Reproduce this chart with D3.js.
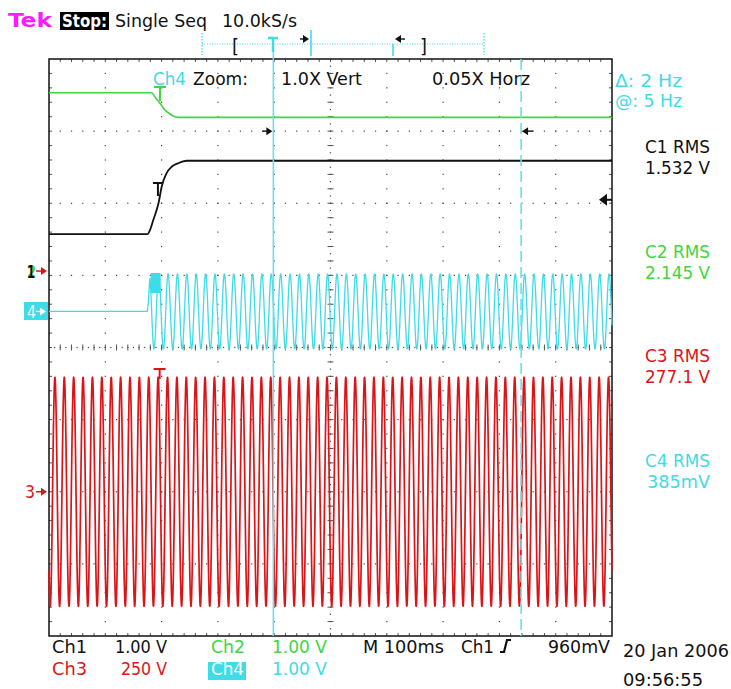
<!DOCTYPE html>
<html>
<head>
<meta charset="utf-8">
<script src="https://cdn.jsdelivr.net/npm/d3@7"></script>
<style>
html, body { margin: 0; padding: 0; background: #fff; }
svg { display: block; }
text { font-family: "DejaVu Sans Condensed", "Liberation Sans Narrow", "DejaVu Sans", sans-serif; }
</style>
</head>
<body>
<svg id="scope" width="731" height="689"></svg>
<script>
// ---- data (time in ms, trigger at 0) ----
const timeDomainMs = [-193.5, 806.5];
const channelNames = ["Ch1", "Ch2", "Ch3", "Ch4"];
const voltsPerDiv = [1.00, 1.00, 250, 1.00];
const voltsLabels = ["1.00 V", "1.00 V", "250 V", "1.00 V"];
const groundDiv = [1.06, 1.06, -2.0, 0.5];
const rmsValues = ["1.532 V", "2.145 V", "277.1 V", "385mV"];

// Ch1 (black) step
const ch1Times = [-193.5, -18.3, -14.2, -8.3, 1.2, 6.6, 15.5, 24.3, 35.5, 51, 806.5];
const ch1Volts = [0.513, 0.513, 0.568, 0.707, 0.947, 1.169, 1.359, 1.446, 1.493, 1.529, 1.529];
// Ch2 (green) drop
const ch2Times = [-193.5, -11.2, -5.3, 3.6, 12.4, 21.3, 35.5, 806.5];
const ch2Volts = [2.472, 2.472, 2.412, 2.325, 2.232, 2.177, 2.131, 2.131];
// Ch3 / Ch4 are 60 Hz mains
const lineFreqHz = 60;
const ch3PeakV = 397;
const ch3PeakAtMs = -183;
const ch4EnvTimes = [-193.5, -19.5, -17, -14, 806.5];
const ch4EnvPeakV = [0, 0, 0.16, 0.52, 0.52];

const cursorMs = [205, 645];
const cursorReadout = ["Δ: 2 Hz", "@: 5 Hz"];
const timePerDiv = "100ms";
const triggerLevelV = 0.96;
const triggerLabel = "960mV";

// ---- geometry ----
const svg = d3.select("#scope");
const L = 49, R = 612, T = 59, B = 636;
const divX = (R - L) / 10, divY = (B - T) / 8;
const cx = (L + R) / 2, cy = (T + B) / 2;

const x = d3.scaleLinear().domain(timeDomainMs).range([L, R]);
const yDiv = d3.scaleLinear().domain([-4, 4]).range([B, T]);
const yCh = (i, v) => yDiv(groundDiv[i] + v / voltsPerDiv[i]);

const CYAN = "#3fdbe6", GREEN = "#3fd63f", RED = "#dc1418", MAG = "#ff1aff";

// ---- graticule ----
const grid = svg.append("g");
const dots = [];
for (let i = 1; i < 10; i++) {
  if (i === 5) continue;
  for (let k = 1; k < 40; k++) dots.push([L + i * divX, T + k * divY / 5]);
}
for (let j = 1; j < 8; j++) {
  if (j === 4) continue;
  for (let k = 1; k < 50; k++) dots.push([L + k * divX / 5, T + j * divY]);
}
for (let k = 1; k < 80; k++) dots.push([cx, T + k * divY / 10]);
for (let k = 1; k < 100; k++) dots.push([L + k * divX / 10, cy]);
grid.selectAll("rect.dot").data(dots).join("rect")
  .attr("class", "dot")
  .attr("x", d => d[0] - 0.6).attr("y", d => d[1] - 0.6)
  .attr("width", 1.2).attr("height", 1.2).attr("fill", "#444");

const ticks = [];
for (let k = 1; k < 50; k++) {
  const xx = L + k * divX / 5;
  ticks.push([xx, T, xx, T + 3], [xx, B - 3, xx, B], [xx, cy - 3, xx, cy + 3]);
}
for (let k = 1; k < 40; k++) {
  const yy = T + k * divY / 5;
  ticks.push([L, yy, L + 3, yy], [R - 3, yy, R, yy], [cx - 3, yy, cx + 3, yy]);
}
grid.selectAll("line.tick").data(ticks).join("line")
  .attr("class", "tick")
  .attr("x1", d => d[0]).attr("y1", d => d[1]).attr("x2", d => d[2]).attr("y2", d => d[3])
  .attr("stroke", "#555").attr("stroke-width", 1);

grid.append("rect").attr("x", L).attr("y", T).attr("width", R - L).attr("height", B - T)
  .attr("fill", "none").attr("stroke", "#111").attr("stroke-width", 1.5);

// ---- traces ----
const step = 0.2;
const tSamples = d3.range(timeDomainMs[0], timeDomainMs[1] + step, step);
const ch4Env = d3.scaleLinear().domain(ch4EnvTimes).range(ch4EnvPeakV).clamp(true);

const ch3Data = tSamples.map(t => [t, ch3PeakV * Math.cos(2 * Math.PI * lineFreqHz * (t - ch3PeakAtMs) / 1000)]);
const ch4Data = tSamples.map(t => [t, t < ch4EnvTimes[1] ? 0 :
  ch4Env(t) * Math.sin(2 * Math.PI * lineFreqHz * (t - ch4EnvTimes[1]) / 1000)]);
const ch1Data = ch1Times.map((t, i) => [t, ch1Volts[i]]);
const ch2Data = ch2Times.map((t, i) => [t, ch2Volts[i]]);

const traces = svg.append("g");
function drawTrace(idx, data, color, width, curve) {
  const line = d3.line().x(d => x(d[0])).y(d => yCh(idx, d[1])).curve(curve || d3.curveLinear);
  traces.append("path").datum(data).attr("d", line)
    .attr("fill", "none").attr("stroke", color).attr("stroke-width", width)
    .attr("stroke-linejoin", "round");
}
drawTrace(2, ch3Data, RED, 1.7);
drawTrace(3, ch4Data, CYAN, 1.3);
drawTrace(1, ch2Data, GREEN, 1.6, d3.curveMonotoneX);
drawTrace(0, ch1Data, "#111", 1.8, d3.curveMonotoneX);

// ---- trigger "T" marks on traces ----
function tMark(xx, yTop, yBot, color, halfW) {
  traces.append("line").attr("x1", xx - halfW).attr("x2", xx + halfW).attr("y1", yTop).attr("y2", yTop)
    .attr("stroke", color).attr("stroke-width", 2);
  traces.append("line").attr("x1", xx).attr("x2", xx).attr("y1", yTop).attr("y2", yBot)
    .attr("stroke", color).attr("stroke-width", 2);
}
tMark(x(3.6), 87, 101, GREEN, 6);
tMark(x(0), 183, 196, "#111", 5);
tMark(x(3), 369, 379, RED, 6);
traces.append("rect").attr("x", x(-13)).attr("y", 273).attr("width", 10).attr("height", 20).attr("fill", CYAN);

// ---- arrows ----
function arrow(x1, x2, y, color, w) {
  const dir = Math.sign(x2 - x1);
  const g = svg.append("g");
  g.append("line").attr("x1", x1).attr("x2", x2 - dir * 3).attr("y1", y).attr("y2", y)
    .attr("stroke", color).attr("stroke-width", w || 1.5);
  g.append("path").attr("d", `M${x2},${y} L${x2 - dir * 6},${y - 4} L${x2 - dir * 6},${y + 4} Z`).attr("fill", color);
}

// cursors
const cur = svg.append("g");
cur.append("line").attr("x1", x(cursorMs[0])).attr("x2", x(cursorMs[0])).attr("y1", 50).attr("y2", B)
  .attr("stroke", "#70dde6").attr("stroke-width", 1.6);
cur.append("line").attr("x1", x(cursorMs[1])).attr("x2", x(cursorMs[1])).attr("y1", T).attr("y2", B)
  .attr("stroke", "#70dde6").attr("stroke-width", 1.6).attr("stroke-dasharray", "11,5");
arrow(x(cursorMs[0]) - 11, x(cursorMs[0]) - 1, T + divY, "#111", 1.4);
arrow(x(cursorMs[1]) + 12, x(cursorMs[1]) + 1, T + divY, "#111", 1.4);

// trigger level marker on right edge
const trigY = yCh(0, triggerLevelV) - 2;
svg.append("path").attr("d", `M${R - 13},${trigY} L${R - 5},${trigY - 6} L${R - 5},${trigY + 6} Z`).attr("fill", "#111");
svg.append("line").attr("x1", R - 6).attr("x2", R).attr("y1", trigY).attr("y2", trigY).attr("stroke", "#111").attr("stroke-width", 2);

// ---- text helper ----
function label(xx, yy, str, color, len, size, weight) {
  const t = svg.append("text").attr("x", xx).attr("y", yy).attr("fill", color)
    .attr("font-size", size || 18).text(str);
  if (weight) t.attr("font-weight", weight);
  if (len) t.attr("textLength", len).attr("lengthAdjust", "spacingAndGlyphs");
  return t;
}

// ground markers
label(27, 278, "2", GREEN, 9, 17, "bold");
label(27, 278, "1", "#111", 8, 17, "bold");
arrow(36, 47, yCh(0, 0), RED, 1.5);
svg.append("rect").attr("x", 24).attr("y", 302).attr("width", 24).attr("height", 18).attr("fill", CYAN);
label(27, 317.5, "4", "#fff", 9, 17);
arrow(36, 46, yCh(3, 0), "#fff", 1.3);
label(25, 498, "3", RED, 10, 17);
arrow(36, 47, yCh(2, 0), RED, 1.5);

// ---- header ----
label(8, 27, "Tek", MAG, 44, 19, "bold");
svg.append("rect").attr("x", 60).attr("y", 12).attr("width", 49).attr("height", 18).attr("fill", "#000");
label(62, 27, "Stop:", "#fff", 45, 18, "bold");
label(115, 27, "Single Seq", "#111", 92, 18);
label(222, 27, "10.0kS/s", "#111", 75, 18);

// record bar
const rb = svg.append("g");
rb.append("line").attr("x1", 202).attr("x2", 484).attr("y1", 44).attr("y2", 44)
  .attr("stroke", CYAN).attr("stroke-width", 1.2).attr("stroke-dasharray", "1,1.5");
[202, 484].forEach(xx => rb.append("line").attr("x1", xx).attr("x2", xx).attr("y1", 33).attr("y2", 55)
  .attr("stroke", CYAN).attr("stroke-width", 1.2).attr("stroke-dasharray", "1.5,1.5"));
label(232, 53, "[", "#111", 7, 19);
label(420, 53, "]", "#111", 7, 19);
rb.append("line").attr("x1", 268).attr("x2", 278).attr("y1", 38).attr("y2", 38).attr("stroke", CYAN).attr("stroke-width", 2.5);
rb.append("line").attr("x1", 273).attr("x2", 273).attr("y1", 38).attr("y2", 52).attr("stroke", CYAN).attr("stroke-width", 2.5);
rb.append("line").attr("x1", 311).attr("x2", 311).attr("y1", 30).attr("y2", 56).attr("stroke", CYAN).attr("stroke-width", 1.6);
rb.append("line").attr("x1", 393).attr("x2", 393).attr("y1", 44).attr("y2", 56).attr("stroke", CYAN).attr("stroke-width", 1.6);
arrow(300, 309, 39, "#111", 1.4);
arrow(405, 395, 39, "#111", 1.4);

// zoom line
label(153, 85, "Ch4", CYAN, 33, 18);
label(193, 85, "Zoom:", "#111", 55, 18);
label(281, 85, "1.0X Vert", "#111", 81, 18);
label(432, 85, "0.05X Horz", "#111", 98, 18);

// right-hand readouts
label(615, 87, cursorReadout[0], CYAN, 67, 18);
label(615, 107, cursorReadout[1], CYAN, 67, 18);
const readColors = ["#111", GREEN, RED, CYAN];
const readBase = [153, 258, 362, 467];
channelNames.forEach((n, i) => {
  label(645, readBase[i], "C" + (i + 1) + " RMS", readColors[i], 65, 18);
  label(i === 3 ? 647 : 645, readBase[i] + 21, rmsValues[i], readColors[i], i === 3 ? 63 : 65, 18);
});

// ---- footer ----
label(52, 653, channelNames[0], "#111", 35, 17);
label(115, 653, voltsLabels[0], "#111", 52, 17);
label(211, 653, channelNames[1], GREEN, 34, 17);
label(272, 653, voltsLabels[1], GREEN, 55, 17);
label(363, 653, "M " + timePerDiv, "#111", 81, 17);
label(461, 653, "Ch1", "#111", 33, 17);
svg.append("path").attr("d", "M500,652 L504,652 L507,640 L511,640").attr("fill", "none")
  .attr("stroke", "#111").attr("stroke-width", 2.2);
label(548, 653, triggerLabel, "#111", 62, 17);
label(52, 675, channelNames[2], RED, 35, 17);
label(121, 675, voltsLabels[2], RED, 46, 17);
svg.append("rect").attr("x", 208).attr("y", 662).attr("width", 38).attr("height", 18).attr("fill", CYAN);
label(211, 675, channelNames[3], "#fff", 33, 17);
label(272, 675, voltsLabels[3], CYAN, 55, 17);
label(623, 657, "20 Jan 2006", "#111", 106, 17);
label(623, 686, "09:56:55", "#111", 80, 17);
</script>
</body>
</html>
